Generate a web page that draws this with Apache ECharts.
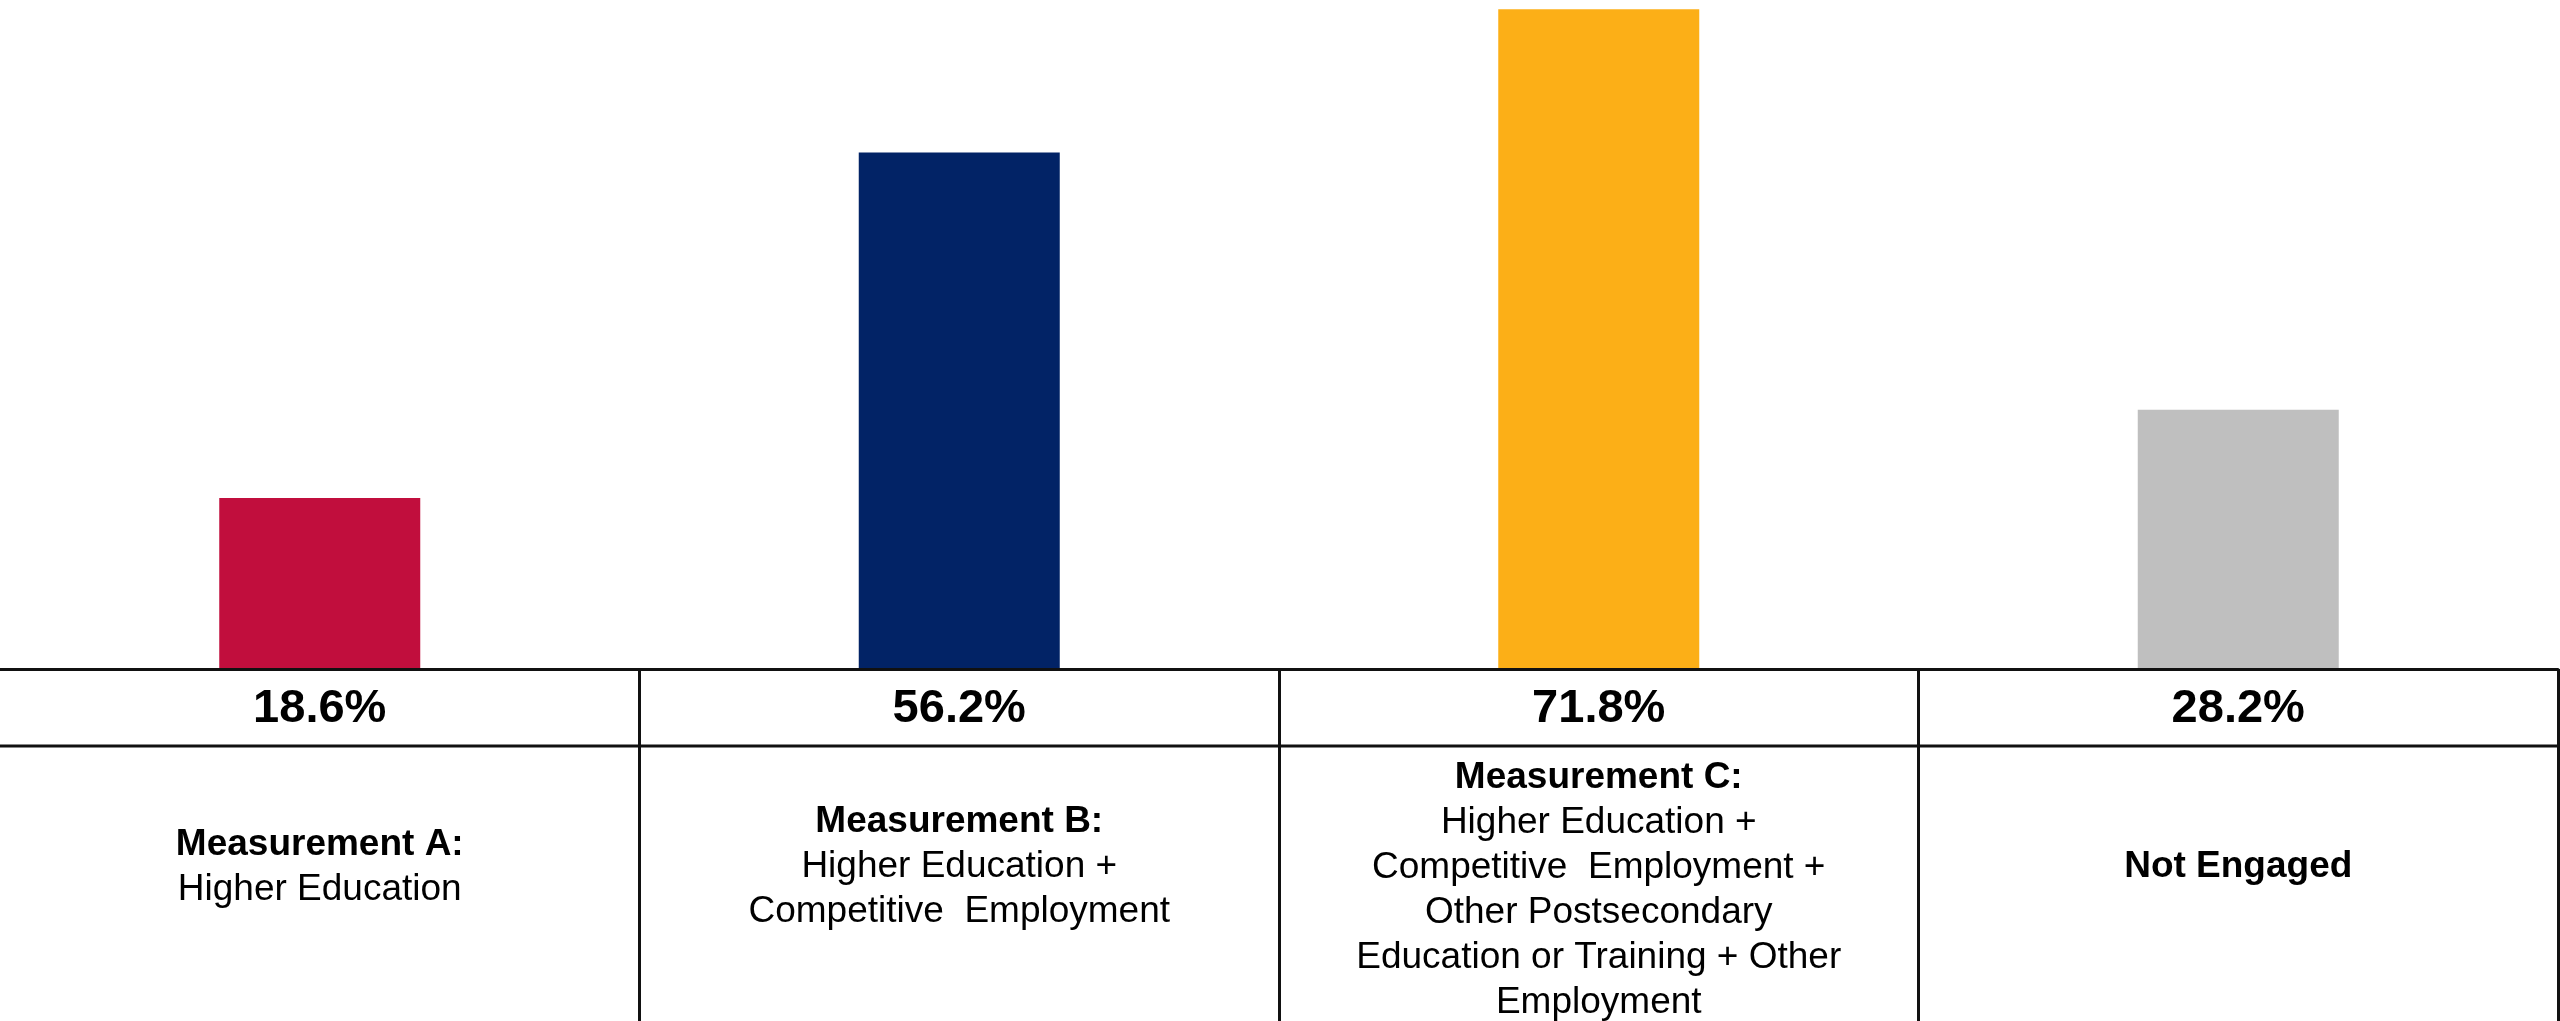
<!DOCTYPE html>
<html>
<head>
<meta charset="utf-8">
<style>
  html, body { margin: 0; padding: 0; background: #ffffff; }
  #chart { width: 2560px; height: 1021px; }
</style>
<script src="https://cdn.jsdelivr.net/npm/echarts@6/dist/echarts.min.js"></script>
</head>
<body>
<div id="chart"></div>
<script>
// ---- data ----
const categories = ['Measurement A', 'Measurement B', 'Measurement C', 'Not Engaged'];
const values = [18.6, 56.2, 71.8, 28.2];
const valueLabels = ['18.6%', '56.2%', '71.8%', '28.2%'];
const headings = ['Measurement A:', 'Measurement B:', 'Measurement C:', 'Not Engaged'];
const detailLines = [
  ['Higher Education'],
  ['Higher Education +', 'Competitive  Employment'],
  ['Higher Education +', 'Competitive  Employment +', 'Other Postsecondary', 'Education or Training + Other', 'Employment'],
  []
];
const barColors = ['#C10E3D', '#022366', '#FCAF17', '#BFBFBF'];

// ---- chart ----
const chart = echarts.init(document.getElementById('chart'), null, { renderer: 'canvas' });
const FONT = '"Liberation Sans", Arial, sans-serif';
const LINE = '#111111';

function describe(value, idx) {
  const parts = [];
  if (detailLines[idx].length > 4) parts.push('{sp| }');
  parts.push('{b|' + headings[idx] + '}');
  detailLines[idx].forEach(function (l) { parts.push('{n|' + l + '}'); });
  return parts.join('\n');
}

chart.setOption({
  animation: false,
  backgroundColor: '#ffffff',
  grid: { left: -2, right: 2, top: 0, bottom: 352, containLabel: false },
  xAxis: [
    {
      type: 'category',
      data: categories,
      position: 'bottom',
      z: 5,
      axisLine: { show: true, lineStyle: { color: LINE, width: 3 } },
      axisTick: {
        show: true,
        length: 360,
        interval: function (index) { return index !== 0; },
        lineStyle: { color: LINE, width: 3 }
      },
      axisLabel: {
        interval: 0,
        margin: 40,
        verticalAlign: 'middle',
        fontFamily: FONT,
        fontSize: 47,
        fontWeight: 'bold',
        color: '#000000',
        formatter: function (v, i) { return valueLabels[i]; }
      },
      splitLine: { show: false }
    },
    {
      type: 'category',
      data: categories,
      position: 'bottom',
      axisLine: { show: false },
      axisTick: { show: false },
      axisLabel: {
        interval: 0,
        margin: 198,
        verticalAlign: 'middle',
        align: 'center',
        fontFamily: FONT,
        color: '#000000',
        formatter: describe,
        rich: {
          b: { fontFamily: FONT, fontSize: 37, fontWeight: 'bold', lineHeight: 45, color: '#000000', align: 'center' },
          n: { fontFamily: FONT, fontSize: 37, lineHeight: 45, color: '#000000', align: 'center' },
          sp: { fontFamily: FONT, fontSize: 10, lineHeight: 46 }
        }
      }
    }
  ],
  yAxis: {
    type: 'value',
    min: 0,
    max: 72.8,
    show: false,
    splitLine: { show: false }
  },
  series: [
    {
      type: 'bar',
      xAxisIndex: 0,
      barWidth: 201,
      data: values.map(function (v, i) {
        return { value: v, itemStyle: { color: barColors[i] } };
      })
    }
  ],
  graphic: [
    {
      type: 'line',
      z: 100,
      shape: { x1: 0, y1: 746, x2: 2558, y2: 746 },
      style: { stroke: LINE, lineWidth: 3 }
    }
  ]
});
</script>
</body>
</html>
